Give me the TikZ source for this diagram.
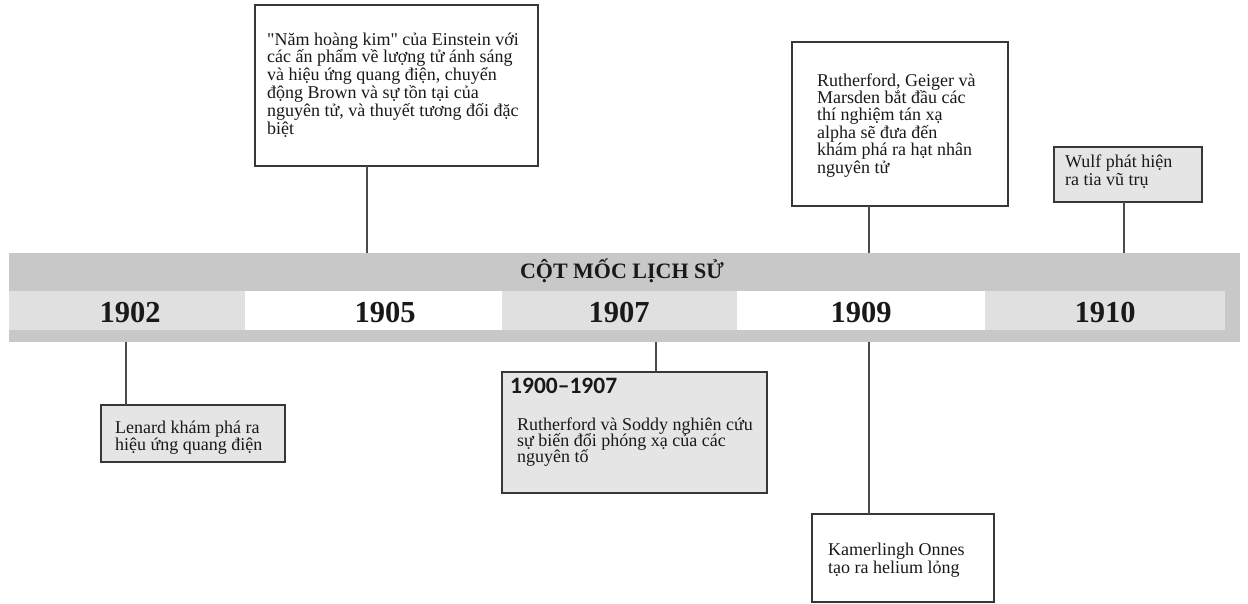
\documentclass[tikz,border=0pt]{standalone}
\usepackage{fontspec}
\setmainfont{Liberation Serif}[Ligatures=TeXOff]
\newfontfamily\headfont{Carlito}
\definecolor{bandgray}{RGB}{200,200,200}
\definecolor{cellgray}{RGB}{224,224,224}
\definecolor{boxgray}{RGB}{229,229,229}
\definecolor{edgegray}{RGB}{55,55,55}
\definecolor{linkgray}{RGB}{75,75,75}
\definecolor{inkcol}{RGB}{25,25,25}
\newcommand{\firstline}{\rule{0pt}{16pt}}
\begin{document}
\lineskiplimit=-100pt
\begin{tikzpicture}[x=1pt,y=-1pt,
  bandbox/.style={fill=bandgray,draw=none,inner sep=0pt,outer sep=0pt,anchor=north west,minimum height=89pt,minimum width=1231pt},
  cellbox/.style={draw=none,inner sep=0pt,outer sep=0pt,anchor=north west,minimum height=39pt},
  evbox/.style={draw=edgegray,line width=1.4pt,inner sep=0pt,outer sep=0pt,anchor=north west},
  evtext/.style={inner sep=0pt,anchor=north west,align=left,text=inkcol},
  yearlbl/.style={anchor=base,inner sep=0pt,text=inkcol,font=\fontsize{30.5}{30}\selectfont\bfseries},
  link/.style={draw=linkgray,line width=1.4pt}]
\useasboundingbox (0,0) rectangle (1248,604);

% timeline band with its year cells
\node[bandbox] (band) at (9,253) {};
\node[cellbox,fill=cellgray,minimum width=236pt] (c1) at (9,291) {};
\node[cellbox,fill=white,minimum width=257pt] (c2) at (245,291) {};
\node[cellbox,fill=cellgray,minimum width=235pt] (c3) at (502,291) {};
\node[cellbox,fill=white,minimum width=248pt] (c4) at (737,291) {};
\node[cellbox,fill=cellgray,minimum width=240pt] (c5) at (985,291) {};

\node[anchor=base,inner sep=0pt,text=inkcol,font=\fontsize{22}{22}\selectfont\bfseries] (title) at (622,279) {CỘT MỐC LỊCH SỬ};
\node[yearlbl] (y1902) at (130,322) {1902};
\node[yearlbl] (y1905) at (385,322) {1905};
\node[yearlbl] (y1907) at (619,322) {1907};
\node[yearlbl] (y1909) at (861,322) {1909};
\node[yearlbl] (y1910) at (1105,322) {1910};

% events above the band
\node[evbox,fill=white,minimum width=283pt,minimum height=161pt] (ein) at (255,5) {};
\node[evtext,font=\fontsize{18}{17.8}\selectfont] (eintext) at (267,29) {\firstline"Năm hoàng kim" của Einstein với\\các ấn phẩm về lượng tử ánh sáng\\và hiệu ứng quang điện, chuyển\\động Brown và sự tồn tại của\\nguyên tử, và thuyết tương đối đặc\\biệt};

\node[evbox,fill=white,minimum width=216pt,minimum height=164pt] (geiger) at (792,42) {};
\node[evtext,font=\fontsize{18}{17.4}\selectfont] (geigertext) at (817,70) {\firstline Rutherford, Geiger và\\Marsden bắt đầu các\\thí nghiệm tán xạ\\alpha sẽ đưa đến\\khám phá ra hạt nhân\\nguyên tử};

\node[evbox,fill=boxgray,minimum width=148pt,minimum height=55pt] (wulf) at (1054,147) {};
\node[evtext,font=\fontsize{18}{18}\selectfont] (wulftext) at (1065,151) {\firstline Wulf phát hiện\\ra tia vũ trụ};

% events below the band
\node[evbox,fill=boxgray,minimum width=184pt,minimum height=57pt] (lenard) at (101,405) {};
\node[evtext,font=\fontsize{18}{17}\selectfont] (lenardtext) at (115,417) {\firstline Lenard khám phá ra\\hiệu ứng quang điện};

\node[evbox,fill=boxgray,minimum width=265pt,minimum height=121pt] (soddy) at (502,372) {};
\node[anchor=base west,inner sep=0pt,text=inkcol,font=\headfont\fontsize{23.5}{23.5}\selectfont\bfseries] (soddyhead) at (510,393) {1900–1907};
\node[evtext,font=\fontsize{18}{16}\selectfont] (soddytext) at (517,414) {\firstline Rutherford và Soddy nghiên cứu\\sự biến đổi phóng xạ của các\\nguyên tố};

\node[evbox,fill=white,minimum width=182pt,minimum height=88pt] (onnes) at (812,514) {};
\node[evtext,font=\fontsize{18}{18}\selectfont] (onnestext) at (828,539) {\firstline Kamerlingh Onnes\\tạo ra helium lỏng};

% connectors between the boxes and the band
\coordinate (kein) at (367,0);
\coordinate (kgeiger) at (869,0);
\coordinate (kwulf) at (1124,0);
\coordinate (klenard) at (126,0);
\coordinate (ksoddy) at (656,0);
\coordinate (konnes) at (869,0);
\draw[link] (ein.south -| kein) -- (band.north -| kein);
\draw[link] (geiger.south -| kgeiger) -- (band.north -| kgeiger);
\draw[link] (wulf.south -| kwulf) -- (band.north -| kwulf);
\draw[link] (band.south -| klenard) -- (lenard.north -| klenard);
\draw[link] (band.south -| ksoddy) -- (soddy.north -| ksoddy);
\draw[link] (band.south -| konnes) -- (onnes.north -| konnes);
\end{tikzpicture}
\end{document}
